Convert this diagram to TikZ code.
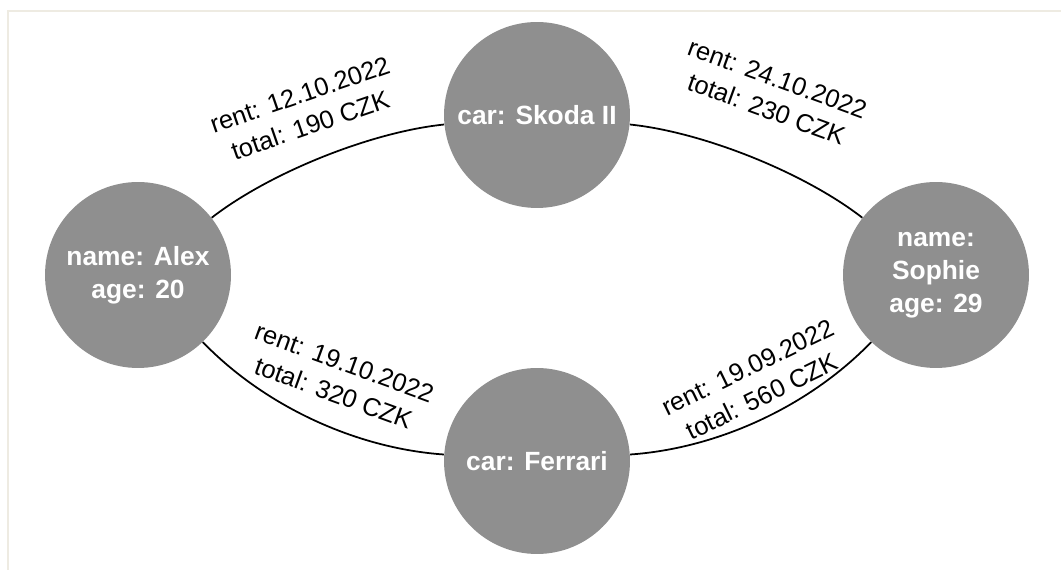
\documentclass[tikz,border=0pt]{standalone}
\usepackage{fontspec}
\setmainfont{Liberation Sans}
\definecolor{nodegray}{HTML}{8F8F8F}
\definecolor{framebeige}{HTML}{EEEBE2}

\begin{document}
\begin{tikzpicture}[x=0.02cm, y=-0.02cm,
        entity/.style={circle, fill=nodegray, minimum size=3.72cm, inner sep=0pt,
            text=white, align=center, font=\fontsize{15}{18.8}\selectfont\bfseries},
        rental/.style={align=center, font=\fontsize{14.5}{18.4}\selectfont},
        link/.style={line width=1pt, bend left=16, looseness=0.75},
        lowlink/.style={line width=1pt, bend left=21, looseness=0.85}]
        \useasboundingbox (0, 0) rectangle (1061, 570);
        \draw[framebeige, line width=1.1pt] (8, 580) -- (8, 11) -- (1070, 11);

        % people and cars
        \node[entity] (alex) at (138, 275) {name: Alex\\age: 20};
        \node[entity] (skoda) at (537, 115) {car: Skoda II};
        \node[entity] (sophie) at (936, 275) {name:\\Sophie\\age: 29};
        \node[entity] (ferrari) at (537, 461) {car: Ferrari};

        % rentals
        \draw[link] (alex) to (skoda);
        \draw[link] (skoda) to (sophie);
        \draw[lowlink] (sophie) to (ferrari);
        \draw[lowlink] (ferrari) to (alex);

        \node[rental, rotate=19] (rentskoda) at (305, 110) {rent: 12.10.2022\\total: 190 CZK};
        \node[rental, rotate=-20] (rentsophie) at (772, 94) {rent: 24.10.2022\\total: 230 CZK};
        \node[rental, rotate=-20] (rentalex) at (339, 378) {rent: 19.10.2022\\total: 320 CZK};
        \node[rental, rotate=26] (rentferrari) at (755, 382) {rent: 19.09.2022\\total: 560 CZK};
    \end{tikzpicture}
\end{document}
